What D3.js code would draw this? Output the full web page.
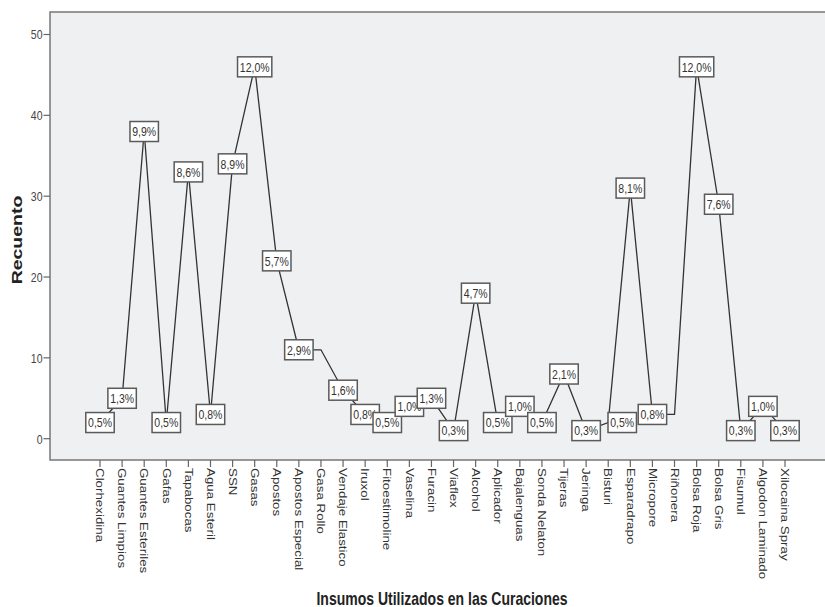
<!DOCTYPE html>
<html>
<head>
<meta charset="utf-8">
<script src="https://cdn.jsdelivr.net/npm/d3@7"></script>
<style>
  html, body { margin: 0; padding: 0; background: #ffffff; }
  svg { display: block; }
  text { font-family: "Liberation Sans", Arial, sans-serif; fill: #333; }
</style>
</head>
<body>
<svg id="chart" width="825" height="607"></svg>
<script>
// Insumos utilizados en las curaciones: recuento por insumo
const categories = [
  "Clorhexidina", "Guantes Limpios", "Guantes Esteriles", "Gafas", "Tapabocas",
  "Agua Esteril", "SSN", "Gasas", "Apostos", "Apostos Especial", "Gasa Rollo",
  "Vendaje Elastico", "Iruxol", "Fitoestimoline", "Vaselina", "Furacin",
  "Viaflex", "Alcohol", "Aplicador", "Bajalenguas", "Sonda Nelaton", "Tijeras",
  "Jeringa", "Bisturi", "Esparadrapo", "Micropore", "Riñonera", "Bolsa Roja",
  "Bolsa Gris", "Fisumul", "Algodon Laminado", "Xilocaina Spray"
];
const counts = [
  2, 5, 38, 2, 33,
  3, 34, 46, 22, 11, 11,
  6, 3, 2, 4, 5,
  1, 18, 2, 4, 2, 8,
  1, 2, 31, 3, 3, 46,
  29, 1, 4, 1
];
const yTicks = [0, 10, 20, 30, 40, 50];
// categories whose percentage label is suppressed (overlaps its neighbour)
const hiddenLabels = ["Gasa Rollo", "Riñonera"];

const total = d3.sum(counts);
const data = categories.map((c, i) => ({ cat: c, v: counts[i] }));
const pct = v => (v / total * 100).toFixed(1).replace(".", ",") + "%";

// layout
const plot = { left: 50, top: 12, right: 827, bottom: 460 };
const SY = 1.27;            // vertical stretch of the lettering
const labelNudge = { "Bisturi": 14 };

const svg = d3.select("#chart");

const x = d3.scalePoint().domain(categories).range([100, 785]);
const y = d3.scaleLinear().domain([0, 50]).range([438.7, 34.5]);

// plot background and frame
svg.append("rect")
  .attr("x", plot.left).attr("y", plot.top)
  .attr("width", plot.right - plot.left).attr("height", plot.bottom - plot.top)
  .attr("fill", "#eff0f2").attr("stroke", "#777").attr("stroke-width", 1.5);

// y axis ticks
const yg = svg.append("g");
yg.selectAll("line").data(yTicks).join("line")
  .attr("x1", plot.left - 6.5).attr("x2", plot.left)
  .attr("y1", d => y(d)).attr("y2", d => y(d))
  .attr("stroke", "#666").attr("stroke-width", 1.2);
yg.selectAll("g.lbl").data(yTicks).join("g").attr("class", "lbl")
  .attr("transform", d => `translate(${plot.left - 7.5},${y(d)}) scale(1,${SY})`)
  .append("text")
  .attr("text-anchor", "end").attr("dy", "0.36em")
  .style("font-size", "10.5px").style("fill", "#444")
  .text(d => d);

// x axis ticks and rotated category labels
const xg = svg.append("g");
xg.selectAll("line").data(categories).join("line")
  .attr("x1", d => x(d)).attr("x2", d => x(d))
  .attr("y1", plot.bottom).attr("y2", plot.bottom + 7)
  .attr("stroke", "#666").attr("stroke-width", 1.2);
xg.selectAll("g.lbl").data(categories).join("g").attr("class", "lbl")
  .attr("transform", d => `translate(${x(d)},${plot.bottom + 8}) scale(1,${SY}) rotate(90)`)
  .append("text")
  .attr("text-anchor", "start").attr("dy", "0.36em")
  .style("font-size", "10.5px").style("fill", "#333")
  .text(d => d);

// the line
const line = d3.line().x(d => x(d.cat)).y(d => y(d.v));
svg.append("path").datum(data)
  .attr("d", line)
  .attr("fill", "none").attr("stroke", "#333").attr("stroke-width", 1.3);

// percentage labels in boxes
const lg = svg.append("g");
data.filter(d => !hiddenLabels.includes(d.cat)).forEach(d => {
  const cx = x(d.cat) + (labelNudge[d.cat] || 0);
  const cy = y(d.v);
  const g = lg.append("g").attr("transform", `translate(${cx},${cy})`);
  const rect = g.append("rect");
  const t = g.append("g").attr("transform", `scale(1,${SY})`)
    .append("text")
    .attr("text-anchor", "middle").attr("dy", "0.36em")
    .style("font-size", "10.5px").style("fill", "#333")
    .text(pct(d.v));
  const w = t.node().getComputedTextLength() + 4.5;
  const h = 20;
  rect.attr("x", -w / 2).attr("y", -h / 2).attr("width", w).attr("height", h)
    .attr("fill", "#ffffff").attr("stroke", "#5a5a5a").attr("stroke-width", 1.5);
});

// axis titles
svg.append("g")
  .attr("transform", `translate(21.5,240) scale(1,1.3) rotate(-90)`)
  .append("text")
  .attr("text-anchor", "middle")
  .style("font-size", "15px").style("font-weight", "bold").style("fill", "#222")
  .text("Recuento");

svg.append("g")
  .attr("transform", `translate(442,605) scale(1,1.3)`)
  .append("text")
  .attr("text-anchor", "middle")
  .style("font-size", "14px").style("font-weight", "bold").style("fill", "#222")
  .text("Insumos Utilizados en las Curaciones");
</script>
</body>
</html>
